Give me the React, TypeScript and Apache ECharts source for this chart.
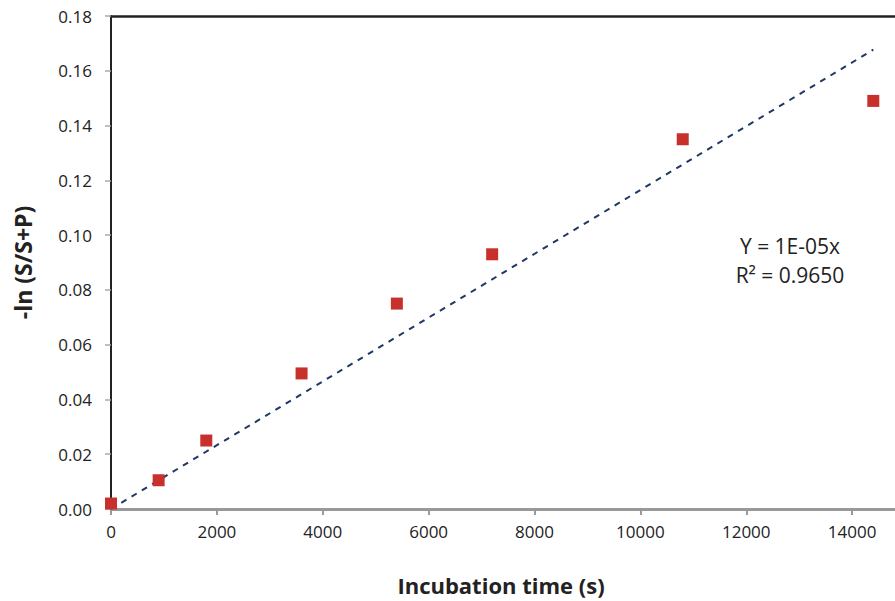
import React, { useEffect, useRef } from "react";
import * as echarts from "echarts";

const timeSeconds = [0, 900, 1800, 3600, 5400, 7200, 10800, 14400];
const lnValues = [0.002, 0.0105, 0.025, 0.0495, 0.075, 0.093, 0.135, 0.149];
const trendX = [0, 14400];
const trendY = [0, 0.1677];
const equationLines = ["Y = 1E-05x", "R² = 0.9650"];
const xTitle = "Incubation time (s)";
const yTitle = "-ln (S/S+P)";

export default function App() {
  const ref = useRef<HTMLDivElement>(null);
  useEffect(() => {
    const chart = echarts.init(ref.current!, null, { renderer: "svg" });
    const font = "'Open Sans', 'Noto Sans', sans-serif";
    chart.setOption({
      animation: false,
      backgroundColor: "#ffffff",
      grid: {
        left: 111,
        top: 16,
        bottom: 92,
        right: -63,
        containLabel: false,
        outerBoundsMode: "none",
      },
      xAxis: [
        {
          type: "value",
          min: 0,
          max: 16000,
          interval: 2000,
          axisLine: { show: true, lineStyle: { color: "#999", width: 3 } },
          axisTick: { show: true, length: 6, lineStyle: { color: "#999", width: 2 } },
          axisLabel: {
            fontFamily: font,
            fontSize: 17,
            color: "#222",
            margin: 14,
            showMaxLabel: false,
            formatter: (v: number) => (v >= 16000 ? "" : String(v)),
          },
          splitLine: { show: false },
        },
        {
          type: "value",
          position: "top",
          min: 0,
          max: 16000,
          axisLine: { show: true, lineStyle: { color: "#222", width: 2.5 } },
          axisTick: { show: false },
          axisLabel: { show: false },
          splitLine: { show: false },
        },
      ],
      yAxis: {
        type: "value",
        min: 0,
        max: 0.18,
        interval: 0.02,
        name: yTitle,
        nameLocation: "middle",
        nameGap: 77,
        nameRotate: 90,
        nameTextStyle: { fontFamily: font, fontWeight: "bold", fontSize: 23, color: "#222" },
        axisLine: { show: true, lineStyle: { color: "#222", width: 2 } },
        axisTick: { show: true, length: 6, lineStyle: { color: "#aaa", width: 1.5 } },
        axisLabel: {
          fontFamily: font,
          fontSize: 17,
          color: "#222",
          margin: 19,
          formatter: (v: number) => v.toFixed(2),
        },
        splitLine: { show: false },
      },
      series: [
        {
          type: "line",
          data: trendX.map((x, i) => [x, trendY[i]]),
          showSymbol: false,
          symbol: "none",
          lineStyle: { color: "#1F3864", width: 2, type: [6, 6] },
          z: 2,
        },
        {
          type: "scatter",
          data: timeSeconds.map((x, i) => [x, lnValues[i]]),
          symbol: "rect",
          symbolSize: 12,
          itemStyle: { color: "#C8312B", opacity: 1 },
          z: 3,
        },
      ],
      graphic: [
        {
          type: "text",
          x: 790,
          y: 260,
          style: {
            text: equationLines.join("\n"),
            fontFamily: font,
            fontSize: 21,
            lineHeight: 29,
            fill: "#222",
            align: "center",
            verticalAlign: "middle",
          },
        },
        {
          type: "text",
          x: 501,
          y: 585,
          style: {
            text: xTitle,
            fontFamily: font,
            fontSize: 22,
            fontWeight: "bold",
            fill: "#222",
            align: "center",
            verticalAlign: "middle",
          },
        },
      ],
    });
    return () => chart.dispose();
  }, []);
  return (
    <div
      ref={ref}
      style={{ position: "fixed", left: 0, top: 0, width: 895, height: 601 }}
    />
  );
}
